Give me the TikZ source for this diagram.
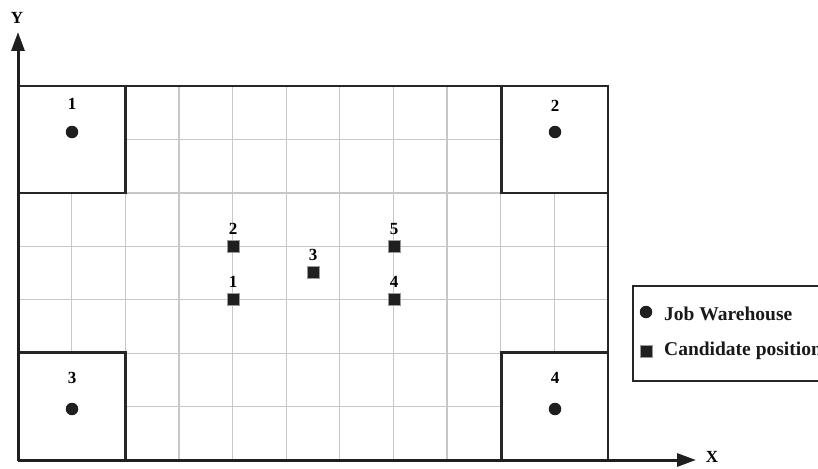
\documentclass[tikz,border=0pt]{standalone}
\usepackage{fontspec}
\setmainfont{Liberation Serif}
\usetikzlibrary{arrows.meta}
\begin{document}
\begin{tikzpicture}[x=1pt,y=-1pt,
  gridline/.style={draw=black!22,line width=1.3pt},
  frame/.style={draw=black!85,line width=2.6pt},
  cornerbox/.style={frame,fill=white},
  whouse/.style={circle,fill=black!88,inner sep=0pt,minimum size=12.5pt},
  cand/.style={rectangle,fill=black!88,draw=black!40,line width=0.5pt,inner sep=0pt,minimum size=12.5pt},
  lbl/.style={font=\bfseries\fontsize{17}{17}\selectfont,inner sep=0pt},
  legtxt/.style={font=\bfseries\fontsize{19.5}{19.5}\selectfont,inner sep=0pt,anchor=west,text=black!90},
  axis/.style={draw=black!88,line width=3pt,-{Triangle[length=19pt,width=13pt]}}]
\useasboundingbox (0,0) rectangle (818,468);
% grid
\foreach \k in {1,...,10} \draw[gridline] ({18+\k*53.64},86) -- ({18+\k*53.64},460);
\foreach \k in {1,...,6} \draw[gridline] (18,{86+\k*53.43}) -- (608,{86+\k*53.43});
% main frame
\draw[frame] (18,86) rectangle (608,460);
% corner boxes
\draw[cornerbox] (18,86) rectangle (125.3,192.9);
\draw[cornerbox] (501.7,86) rectangle (608,192.9);
\draw[cornerbox] (18,352.6) rectangle (125.3,460);
\draw[cornerbox] (501.7,352.6) rectangle (608,460);
% warehouses
\node[whouse] (w1) at (72,132) {};
\node[whouse] (w2) at (555,132) {};
\node[whouse] (w3) at (72,409) {};
\node[whouse] (w4) at (555,409) {};
\node[lbl] (lw1) at (72,104) {1};
\node[lbl] (lw2) at (555,106) {2};
\node[lbl] (lw3) at (72,378) {3};
\node[lbl] (lw4) at (555,378) {4};
% candidates
\node[cand] (c1) at (233,299) {};
\node[cand] (c2) at (233,246) {};
\node[cand] (c3) at (313,272) {};
\node[cand] (c4) at (394,299) {};
\node[cand] (c5) at (394,246) {};
\node[lbl] (lc1) at (233,282) {1};
\node[lbl] (lc2) at (233,229) {2};
\node[lbl] (lc3) at (313,255) {3};
\node[lbl] (lc4) at (394,282) {4};
\node[lbl] (lc5) at (394,229) {5};
% axes
\coordinate (O) at (18,460);
\coordinate (ytip) at (18,32);
\coordinate (xtip) at (696,460);
\draw[axis] (O) -- (ytip);
\draw[axis] (O) -- (xtip);
\node[lbl] (ylab) at (17,18) {Y};
\node[lbl] (xlab) at (712,457) {X};
% legend
\draw[frame] (633,286) rectangle (840,381);
\node[whouse] (lgw) at (646,312) {};
\node[cand] (lgc) at (646,351) {};
\node[legtxt] (lgwt) at (664,314) {Job Warehouse};
\node[legtxt] (lgct) at (664,351) {Candidate position};
\end{tikzpicture}
\end{document}
